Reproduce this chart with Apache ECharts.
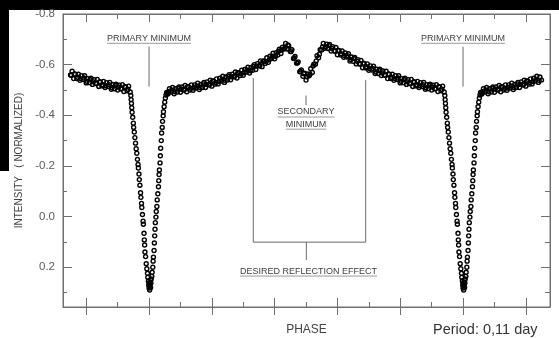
<!DOCTYPE html>
<html>
<head>
<meta charset="utf-8">
<script src="https://cdn.jsdelivr.net/npm/echarts@6/dist/echarts.min.js"></script>
<style>
  html, body { margin: 0; padding: 0; background: #fff; }
  #chart { width: 559px; height: 338px; }
</style>
</head>
<body>
<div id="chart"></div>
<script>
// Phase-folded light curve, one cycle (phase 0..1), [phase, normalized intensity]
const outOfEclipse = [
  [0.060,-0.484],[0.065,-0.505],[0.070,-0.492],[0.075,-0.510],[0.080,-0.485],[0.085,-0.505],[0.090,-0.492],[0.095,-0.512],
  [0.100,-0.491],[0.105,-0.512],[0.110,-0.500],[0.115,-0.518],[0.120,-0.493],[0.125,-0.513],[0.130,-0.500],[0.135,-0.520],
  [0.140,-0.499],[0.145,-0.520],[0.150,-0.508],[0.155,-0.527],[0.160,-0.502],[0.165,-0.522],[0.170,-0.510],[0.175,-0.530],
  [0.180,-0.510],[0.185,-0.532],[0.190,-0.520],[0.195,-0.539],[0.200,-0.515],[0.205,-0.536],[0.210,-0.523],[0.215,-0.544],
  [0.220,-0.524],[0.225,-0.546],[0.230,-0.535],[0.235,-0.554],[0.240,-0.530],[0.245,-0.551],[0.250,-0.539],[0.255,-0.560],
  [0.260,-0.540],[0.265,-0.562],[0.270,-0.552],[0.275,-0.571],[0.280,-0.547],[0.285,-0.568],[0.290,-0.557],[0.295,-0.578],
  [0.300,-0.558],[0.305,-0.581],[0.310,-0.571],[0.315,-0.590],[0.320,-0.567],[0.325,-0.589],[0.330,-0.578],[0.335,-0.600],
  [0.340,-0.581],[0.345,-0.604],[0.350,-0.595],[0.355,-0.615],[0.360,-0.592],[0.365,-0.615],[0.370,-0.605],[0.375,-0.627],
  [0.380,-0.609],[0.385,-0.633],[0.390,-0.624],[0.395,-0.645],[0.400,-0.623],[0.405,-0.647],[0.410,-0.638],[0.415,-0.661],
  [0.420,-0.644],[0.425,-0.669],[0.430,-0.662],[0.435,-0.684],[0.440,-0.662],[0.445,-0.674],[0.450,-0.652],[0.455,-0.659],
  [0.460,-0.624],[0.465,-0.632],[0.470,-0.606],[0.475,-0.611],[0.480,-0.572],[0.485,-0.579],[0.490,-0.554],[0.495,-0.566],
  [0.500,-0.539],[0.505,-0.563],[0.510,-0.556],[0.515,-0.584],[0.520,-0.569],[0.525,-0.602],[0.530,-0.602],[0.535,-0.635],
  [0.540,-0.627],[0.545,-0.659],[0.550,-0.658],[0.555,-0.684],[0.560,-0.665],[0.565,-0.681],[0.570,-0.664],[0.575,-0.680],
  [0.580,-0.654],[0.585,-0.671],[0.590,-0.655],[0.595,-0.668],[0.600,-0.639],[0.605,-0.655],[0.610,-0.638],[0.615,-0.654],
  [0.620,-0.629],[0.625,-0.646],[0.630,-0.630],[0.635,-0.643],[0.640,-0.614],[0.645,-0.630],[0.650,-0.613],[0.655,-0.628],
  [0.660,-0.603],[0.665,-0.620],[0.670,-0.604],[0.675,-0.617],[0.680,-0.588],[0.685,-0.604],[0.690,-0.587],[0.695,-0.603],
  [0.700,-0.578],[0.705,-0.595],[0.710,-0.579],[0.715,-0.594],[0.720,-0.565],[0.725,-0.582],[0.730,-0.565],[0.735,-0.582],
  [0.740,-0.557],[0.745,-0.575],[0.750,-0.559],[0.755,-0.574],[0.760,-0.545],[0.765,-0.562],[0.770,-0.545],[0.775,-0.562],
  [0.780,-0.538],[0.785,-0.556],[0.790,-0.541],[0.795,-0.556],[0.800,-0.528],[0.805,-0.545],[0.810,-0.529],[0.815,-0.546],
  [0.820,-0.522],[0.825,-0.541],[0.830,-0.526],[0.835,-0.542],[0.840,-0.514],[0.845,-0.532],[0.850,-0.516],[0.855,-0.534],
  [0.860,-0.510],[0.865,-0.529],[0.870,-0.514],[0.875,-0.530],[0.880,-0.503],[0.885,-0.521],[0.890,-0.505],[0.895,-0.523],
  [0.900,-0.500],[0.905,-0.519],[0.910,-0.505],[0.915,-0.521],[0.920,-0.494],[0.925,-0.512],[0.930,-0.497],[0.935,-0.515],
  [0.940,-0.492]
];

// Second run of out-of-eclipse observations
const outOfEclipseRun2 = [
  [0.0625,-0.493],[0.0725,-0.500],[0.0825,-0.493],[0.0925,-0.506],[0.1025,-0.503],[0.1125,-0.501],[0.1225,-0.513],[0.1325,-0.507],
  [0.1425,-0.508],[0.1525,-0.516],[0.1625,-0.510],[0.1725,-0.524],[0.1825,-0.522],[0.1925,-0.521],[0.2025,-0.535],[0.2125,-0.530],
  [0.2225,-0.533],[0.2325,-0.543],[0.2425,-0.538],[0.2525,-0.553],[0.2625,-0.552],[0.2725,-0.553],[0.2825,-0.567],[0.2925,-0.564],
  [0.3025,-0.568],[0.3125,-0.579],[0.3225,-0.576],[0.3325,-0.593],[0.3425,-0.594],[0.3525,-0.596],[0.3625,-0.613],[0.3725,-0.612],
  [0.3825,-0.619],[0.3925,-0.633],[0.4025,-0.633],[0.4125,-0.653],[0.4225,-0.658],[0.4325,-0.665],[0.4425,-0.678],[0.4525,-0.652],
  [0.4625,-0.626],[0.4725,-0.607],[0.4825,-0.573],[0.4925,-0.564],[0.5025,-0.552],[0.5125,-0.562],[0.5225,-0.595],[0.5325,-0.615],
  [0.5425,-0.641],[0.5525,-0.670],[0.5625,-0.671],[0.5725,-0.675],[0.5825,-0.664],[0.5925,-0.653],[0.6025,-0.657],[0.6125,-0.643],
  [0.6225,-0.636],[0.6325,-0.635],[0.6425,-0.620],[0.6525,-0.624],[0.6625,-0.613],[0.6725,-0.602],[0.6825,-0.606],[0.6925,-0.592],
  [0.7025,-0.585],[0.7125,-0.585],[0.7225,-0.571],[0.7325,-0.577],[0.7425,-0.567],[0.7525,-0.558],[0.7625,-0.563],[0.7725,-0.550],
  [0.7825,-0.545],[0.7925,-0.547],[0.8025,-0.534],[0.8125,-0.541],[0.8225,-0.532],[0.8325,-0.525],[0.8425,-0.532],[0.8525,-0.521],
  [0.8625,-0.517],[0.8725,-0.521],[0.8825,-0.509],[0.8925,-0.518],[0.9025,-0.511],[0.9125,-0.505],[0.9225,-0.513],[0.9325,-0.503]
];

const eclipse = [
  [0.942,-0.478],[0.943,-0.462],[0.944,-0.447],[0.945,-0.430],[0.946,-0.412],[0.948,-0.392],[0.950,-0.369],[0.951,-0.352],
  [0.953,-0.334],[0.955,-0.312],[0.957,-0.290],[0.959,-0.268],[0.961,-0.250],[0.963,-0.226],[0.965,-0.206],[0.966,-0.192],
  [0.968,-0.168],[0.969,-0.146],[0.971,-0.124],[0.973,-0.094],[0.974,-0.076],[0.976,-0.052],[0.977,-0.036],[0.979,-0.008],
  [0.981,0.018],[0.982,0.030],[0.984,0.066],[0.985,0.092],[0.986,0.112],[0.987,0.140],[0.989,0.158],[0.991,0.186],
  [0.993,0.206],[0.995,0.224],[0.996,0.240],[0.998,0.254],[0.999,0.270],
  [0.000,0.282],[0.001,0.262],[0.002,0.290],[0.003,0.272],[0.004,0.250],[0.005,0.280],[0.006,0.262],[0.007,0.246],
  [0.009,0.236],[0.010,0.220],[0.012,0.200],[0.013,0.176],[0.014,0.160],[0.016,0.134],[0.017,0.104],[0.018,0.076],
  [0.019,0.050],[0.020,0.024],[0.022,0.002],[0.023,-0.020],[0.025,-0.040],[0.026,-0.066],[0.028,-0.090],[0.030,-0.118],
  [0.031,-0.142],[0.032,-0.166],[0.033,-0.184],[0.035,-0.212],[0.036,-0.240],[0.037,-0.270],[0.039,-0.300],[0.040,-0.330],
  [0.042,-0.352],[0.043,-0.376],[0.045,-0.398],[0.046,-0.414],[0.048,-0.434],[0.050,-0.452],[0.052,-0.468],[0.054,-0.480],
  [0.056,-0.490],[0.058,-0.486]
];

// Axis ranges and ticks
const phaseRange = [-0.274, 1.277];
const intensityRange = [-0.8, 0.357];
const xMajorTicks = [-0.2, 0, 0.2, 0.4, 0.6, 0.8, 1.0, 1.2];
const xMinorTicks = [-0.1, 0.1, 0.3, 0.5, 0.7, 0.9, 1.1];
const yMajorTicks = [-0.8, -0.6, -0.4, -0.2, 0, 0.2];
const yMinorTicks = [-0.7, -0.5, -0.3, -0.1, 0.1, 0.3];

// Annotation anchors, in [phase, intensity]
const primaryMinima = [0, 1];
const primaryLabelLevel = -0.704;
const primaryLeader = [-0.671, -0.513];
const secondaryPhase = 0.5;
const secondaryLeader = [-0.478, -0.440];
const secondaryLines = [['SECONDARY', -0.413], ['MINIMUM', -0.365]];
const bracketLeft = [0.332, -0.547];
const bracketRight = [0.690, -0.539];
const bracketBase = 0.101;
const bracketStem = [0.501, 0.172];
const reflectionLabel = ['DESIRED REFLECTION EFFECT', 0.508, 0.215];

// Repeat the folded cycle so the plot covers phase -0.25 .. 1.25
function unfold(points) {
  const out = [];
  points.forEach(([p, v]) => {
    out.push([p, v]);
    if (p <= 0.25) out.push([p + 1, v]);
    if (p >= 0.75) out.push([p - 1, v]);
  });
  return out;
}

const FONT = '"Liberation Sans", Arial, sans-serif';
const AXIS_COLOR = '#707070';

function axisLine(show) {
  return { show, onZero: false, lineStyle: { color: AXIS_COLOR, width: 1 } };
}
function xAxisDef(position, opts) {
  return Object.assign({
    type: 'value', position, min: phaseRange[0], max: phaseRange[1], z: 20,
    axisLine: axisLine(false), axisLabel: { show: false }, splitLine: { show: false }
  }, opts);
}
function yAxisDef(position, opts) {
  return Object.assign({
    type: 'value', position, inverse: true, min: intensityRange[0], max: intensityRange[1], z: 20,
    axisLine: axisLine(false), axisLabel: { show: false }, splitLine: { show: false }
  }, opts);
}
function ticks(values, length, inside) {
  return { show: true, inside, length, customValues: values, lineStyle: { color: AXIS_COLOR, width: 1 } };
}

const chart = echarts.init(document.getElementById('chart'), null, { renderer: 'canvas' });

chart.setOption({
  animation: false,
  backgroundColor: '#ffffff',
  grid: {
    left: 63, right: 9, top: 14, bottom: 31,
    containLabel: false, outerBoundsMode: 'none',
    show: true, borderColor: AXIS_COLOR, borderWidth: 1, backgroundColor: 'transparent'
  },
  xAxis: [
    xAxisDef('bottom', {
      axisLine: axisLine(true),
      axisTick: ticks(xMajorTicks, 9, true),
      name: 'PHASE', nameLocation: 'middle', nameGap: 17,
      nameTextStyle: { fontFamily: FONT, fontSize: 12, color: '#444' }
    }),
    xAxisDef('bottom', { axisTick: ticks(xMajorTicks, 8, false) }),
    xAxisDef('bottom', { axisTick: ticks(xMinorTicks, 5, true) }),
    xAxisDef('top', { axisLine: axisLine(true), axisTick: ticks(xMajorTicks, 8, true) }),
    xAxisDef('top', { axisTick: ticks(xMinorTicks, 5, true) })
  ],
  yAxis: [
    yAxisDef('left', {
      axisLine: axisLine(true),
      axisTick: ticks(yMajorTicks, 9, true),
      axisLabel: {
        show: true, customValues: yMajorTicks, margin: 8,
        fontFamily: FONT, fontSize: 11.5, color: '#5a5a5a',
        formatter: v => Number(v).toFixed(1)
      },
      name: 'INTENSITY   ( NORMALIZED)', nameLocation: 'middle', nameRotate: 90, nameGap: 36,
      nameTextStyle: { fontFamily: FONT, fontSize: 10, color: '#444' }
    }),
    yAxisDef('left', { axisTick: ticks(yMinorTicks, 4, true) }),
    yAxisDef('right', { axisLine: axisLine(true), axisTick: ticks(yMajorTicks, 9, true) }),
    yAxisDef('right', { axisTick: ticks(yMinorTicks, 5, true) })
  ],
  series: [{
    type: 'scatter',
    xAxisIndex: 0, yAxisIndex: 0,
    data: unfold(outOfEclipse.concat(outOfEclipseRun2, eclipse)),
    symbol: 'circle', symbolSize: 4,
    itemStyle: { color: 'rgba(255,255,255,0)', borderColor: '#000', borderWidth: 1.4, opacity: 1 },
    emphasis: { disabled: true },
    z: 5
  }]
});

// Annotations placed through the chart's own coordinate conversion
const toPx = (p, v) => chart.convertToPixel({ xAxisIndex: 0, yAxisIndex: 0 }, [p, v]);
const measure = (() => {
  const ctx = document.createElement('canvas').getContext('2d');
  return (text, size) => { ctx.font = size + 'px ' + FONT; return ctx.measureText(text).width; };
})();
const LABEL_SIZE = 9;
const LABEL_COLOR = '#3c3c3c';
const LEADER_COLOR = '#6a6a6a';

const graphics = [
  // dark frame edges of the scanned page
  { type: 'rect', shape: { x: 0, y: 0, width: 559, height: 10 }, style: { fill: '#000' }, z: -1 },
  { type: 'rect', shape: { x: 0, y: 0, width: 9, height: 171 }, style: { fill: '#000' }, z: -1 },
  {
    type: 'text', x: 433, y: 330,
    style: { text: 'Period: 0,11 day', fontFamily: FONT, fontSize: 14.5, fill: '#333',
             align: 'left', verticalAlign: 'middle', textAlign: 'left', textVerticalAlign: 'middle' }
  }
];

function line(a, b, color) {
  graphics.push({
    type: 'line', shape: { x1: a[0], y1: a[1], x2: b[0], y2: b[1] },
    style: { stroke: color || LEADER_COLOR, lineWidth: 1 }, z: 10
  });
}
function underlinedLabel(text, cx, cy) {
  const w = measure(text, LABEL_SIZE);
  graphics.push({
    type: 'text', x: cx, y: cy,
    style: { text, fontFamily: FONT, fontSize: LABEL_SIZE, fill: LABEL_COLOR,
             align: 'center', verticalAlign: 'middle', textAlign: 'center', textVerticalAlign: 'middle' },
    z: 10
  });
  line([cx - w / 2, cy + 5], [cx + w / 2, cy + 5], '#9a9a9a');
}

primaryMinima.forEach(p => {
  const t = toPx(p, primaryLabelLevel);
  underlinedLabel('PRIMARY MINIMUM', t[0], t[1]);
  line(toPx(p, primaryLeader[0]), toPx(p, primaryLeader[1]));
});

line(toPx(secondaryPhase, secondaryLeader[0]), toPx(secondaryPhase, secondaryLeader[1]));
secondaryLines.forEach(([text, v]) => {
  const t = toPx(secondaryPhase, v);
  underlinedLabel(text, t[0], t[1]);
});

const bl = toPx(bracketLeft[0], bracketLeft[1]);
const blb = toPx(bracketLeft[0], bracketBase);
const br = toPx(bracketRight[0], bracketRight[1]);
const brb = toPx(bracketRight[0], bracketBase);
line(bl, blb);
line(blb, brb);
line(br, brb);
line(toPx(bracketStem[0], bracketBase), toPx(bracketStem[0], bracketStem[1]));
const rl = toPx(reflectionLabel[1], reflectionLabel[2]);
underlinedLabel(reflectionLabel[0], rl[0], rl[1]);

chart.setOption({ graphic: { elements: graphics } });
</script>
</body>
</html>
